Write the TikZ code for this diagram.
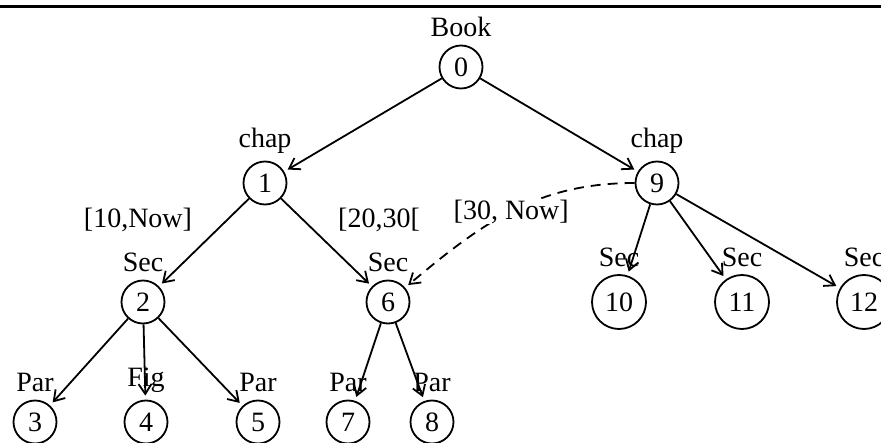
\documentclass[tikz,border=0pt]{standalone}
\usepackage{fontspec}
\setmainfont{Liberation Serif}
\usetikzlibrary{arrows.meta,positioning}
\begin{document}
\begin{tikzpicture}[x=1pt,y=-1pt,
  every node/.style={font=\fontsize{28}{32}\selectfont},
  nd/.style={circle,draw,line width=1.8pt,inner sep=0pt,minimum size=43pt},
  ndw/.style={nd,minimum size=54pt},
  tag/.style={inner sep=0.3333em},
  ann/.style={inner sep=0pt,anchor=base},
  edge/.style={line width=1.8pt,-{Straight Barb[length=10pt,width=13pt]},shorten >=4pt},
  dedge/.style={edge,dash pattern=on 10pt off 7pt}
]
\useasboundingbox (0,0) rectangle (881,443);
\clip (0,0) rectangle (881,443);
% top rule
\coordinate (tl) at (0,7);
\coordinate (tr) at (881,7);
\draw[line width=3pt] (tl) -- (tr);
% nodes
\node[nd]  (n0)  at (461,67)  {0};
\node[nd]  (n1)  at (265,183) {1};
\node[nd]  (n9)  at (657,183) {9};
\node[nd]  (n2)  at (143,302) {2};
\node[nd]  (n6)  at (388,302) {6};
\node[ndw] (n10) at (619,302) {10};
\node[ndw] (n11) at (742,302) {11};
\node[ndw] (n12) at (864,302) {12};
\node[nd]  (n3)  at (35,422)  {3};
\node[nd]  (n4)  at (146,422) {4};
\node[nd]  (n5)  at (258,422) {5};
\node[nd]  (n7)  at (348,422) {7};
\node[nd]  (n8)  at (432,422) {8};
% node tags
\node[tag,above=4pt of n0]  (t0)  {Book};
\node[tag,above=4pt of n1]  (t1)  {chap};
\node[tag,above=4pt of n9]  (t9)  {chap};
\node[tag,above=4pt of n2]  (t2)  {Sec};
\node[tag,above=4pt of n6]  (t6)  {Sec};
\node[tag,above=4pt of n10] (t10) {Sec};
\node[tag,above=4pt of n11] (t11) {Sec};
\node[tag,above=4pt of n12] (t12) {Sec};
\node[tag,above=4pt of n3]  (t3)  {Par};
\node[tag,above=4pt of n4]  (t4)  {Fig};
\node[tag,above=4pt of n5]  (t5)  {Par};
\node[tag,above=4pt of n7]  (t7)  {Par};
\node[tag,above=4pt of n8]  (t8)  {Par};
% interval annotations
\node[ann] (a12) at (138,228) {[10,Now]};
\node[ann] (a16) at (379,228) {[20,30[};
% edges
\draw[edge] (n0) -- (n1);
\draw[edge] (n0) -- (n9);
\draw[edge] (n1) -- (n2);
\draw[edge] (n1) -- (n6);
\draw[edge] (n2) -- (n3);
\draw[edge] (n2) -- (n4);
\draw[edge] (n2) -- (n5);
\draw[edge] (n6) -- (n7);
\draw[edge] (n6) -- (n8);
\draw[edge] (n9) -- (n10);
\draw[edge] (n9) -- (n11);
\draw[edge] (n9) -- (n12);
\draw[dedge] (n9) to[out=180,in=40]
  node[pos=0.5,fill=white,inner sep=1pt] (a96) {[30, Now]} (n6);
\end{tikzpicture}
\end{document}
